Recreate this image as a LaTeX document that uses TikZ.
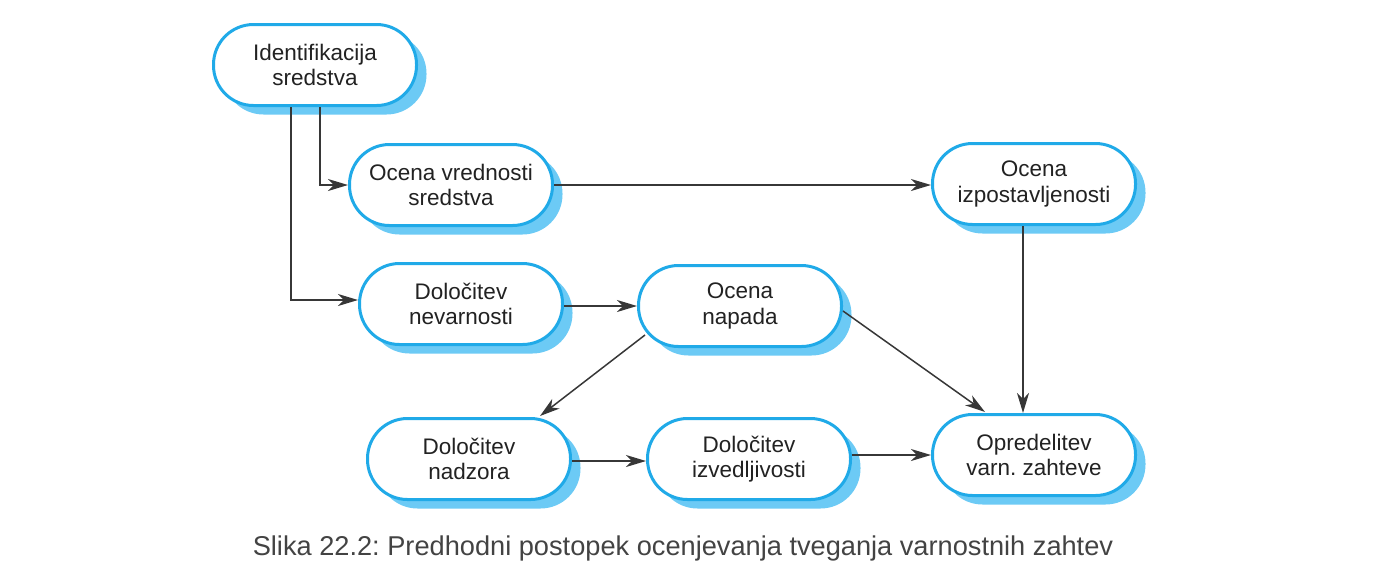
\documentclass[tikz,border=0pt]{standalone}
\usepackage{fontspec}
\setmainfont{Liberation Sans}
\usetikzlibrary{arrows.meta,calc,shadows}
\definecolor{bord}{RGB}{32,170,232}
\definecolor{shad}{RGB}{108,202,245}
\definecolor{linec}{RGB}{55,55,55}
\definecolor{txt}{RGB}{34,34,34}
\frenchspacing
\begin{document}
\begin{tikzpicture}[x=1pt,y=-1pt,
  proc/.style={draw=bord, line width=3pt, fill=white, rounded corners=40pt,
    minimum width=203pt, minimum height=81pt, align=center, text=txt,
    font=\fontsize{22.5}{25.5}\selectfont,
    drop shadow={shadow xshift=10pt, shadow yshift=-9pt, fill=shad, opacity=1}},
  arr/.style={draw=linec, line width=1.5pt, -{Stealth[length=20pt,width=12pt,inset=6pt]}}]
\useasboundingbox (0,0) rectangle (1378,582);
\node[proc] (n1) at (315,65) {Identifikacija\\sredstva};
\node[proc] (n2) at (451,185) {Ocena vrednosti\\sredstva};
\node[proc] (n3) at (1034,184) {Ocena\\izpostavljenosti};
\node[proc] (n4) at (461,304) {Določitev\\nevarnosti};
\node[proc] (n5) at (740,306) {Ocena\\napada};
\node[proc] (n6) at (469,459) {Določitev\\nadzora};
\node[proc] (n7) at (749,459) {Določitev\\izvedljivosti};
\node[proc] (n8) at (1034,455) {Opredelitev\\varn. zahteve};
\draw[arr] ([xshift=5pt]n1.south) |- (n2.west);
\draw[arr] ([xshift=-24pt]n1.south) |- ([yshift=4pt]n4.west);
\draw[arr] (n2.east) -- (n2.east -| n3.west);
\draw[arr] (n4.east |- n5.west) -- (n5.west);
\draw[arr] ([xshift=-11pt]n3.south) -- ([xshift=-11pt]n3.south |- n8.north);
\draw[arr] ($(n5.center)+(103,5)$) -- ($(n8.center)+(-49,-43)$);
\draw[arr] ($(n5.center)+(-95,29)$) -- ($(n6.center)+(71,-43)$);
\draw[arr] ([yshift=-2pt]n6.east) -- ([yshift=-2pt]n6.east -| n7.west);
\draw[arr] (n7.east |- n8.west) -- (n8.west);
\node[text=txt!85, font=\fontsize{27.2}{30}\selectfont] (cap) at (683,548) {Slika 22.2: Predhodni postopek ocenjevanja tveganja varnostnih zahtev};
\end{tikzpicture}
\end{document}
